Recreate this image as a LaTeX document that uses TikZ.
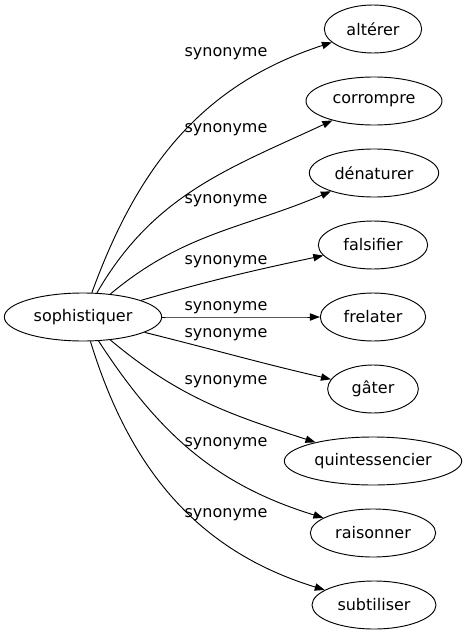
\documentclass[tikz,border=0pt]{standalone}
\usepackage{fontspec}
\setmainfont{DejaVu Sans}
\usetikzlibrary{arrows.meta,shapes.geometric}

\begin{document}
\begin{tikzpicture}[x=0.75pt,y=-0.75pt,
    word/.style={ellipse, draw, line width=0.7pt, minimum height=36pt, minimum width=#1, inner sep=0pt, font=\fontsize{12}{14}\selectfont},
    rel/.style={inner sep=0pt, font=\fontsize{12}{14}\selectfont},
    syn/.style={-{Triangle[length=7.5pt,width=5.5pt]}, line width=0.7pt}]
        \useasboundingbox (0,0) rectangle (467,635);
        \node[word=118pt] (sophistiquer) at (83,317) {sophistiquer};
        \node[word=73pt] (alterer) at (373,29) {altérer};
        \node[word=102pt] (corrompre) at (374,101) {corrompre};
        \node[word=97pt] (denaturer) at (374,173) {dénaturer};
        \node[word=82pt] (falsifier) at (373,245) {falsifier};
        \node[word=79pt] (frelater) at (373,317) {frelater};
        \node[word=68pt] (gater) at (373,389) {gâter};
        \node[word=133pt] (quintessencier) at (373,461) {quintessencier};
        \node[word=94pt] (raisonner) at (373,533) {raisonner};
        \node[word=93pt] (subtiliser) at (374,605) {subtiliser};
        \draw[syn] (sophistiquer) to[out=70,in=198] (alterer);
        \draw[syn] (sophistiquer) to[out=60,in=205] (corrompre);
        \draw[syn] (sophistiquer) to[out=40,in=203] (denaturer);
        \draw[syn] (sophistiquer) to[out=16,in=192] (falsifier);
        \draw[syn] (sophistiquer) to[out=0,in=180] (frelater);
        \draw[syn] (sophistiquer) to[out=-14,in=167] (gater);
        \draw[syn] (sophistiquer) to[out=-40,in=162] (quintessencier);
        \draw[syn] (sophistiquer) to[out=-57,in=163] (raisonner);
        \draw[syn] (sophistiquer) to[out=-73,in=163] (subtiliser);
        \node[rel] (l1) at (226,54) {synonyme};
        \node[rel] (l2) at (226,130) {synonyme};
        \node[rel] (l3) at (226,201) {synonyme};
        \node[rel] (l4) at (226,262) {synonyme};
        \node[rel] (l5) at (226,308) {synonyme};
        \node[rel] (l6) at (226,335) {synonyme};
        \node[rel] (l7) at (226,382) {synonyme};
        \node[rel] (l8) at (226,444) {synonyme};
        \node[rel] (l9) at (226,515) {synonyme};
\end{tikzpicture}
\end{document}
